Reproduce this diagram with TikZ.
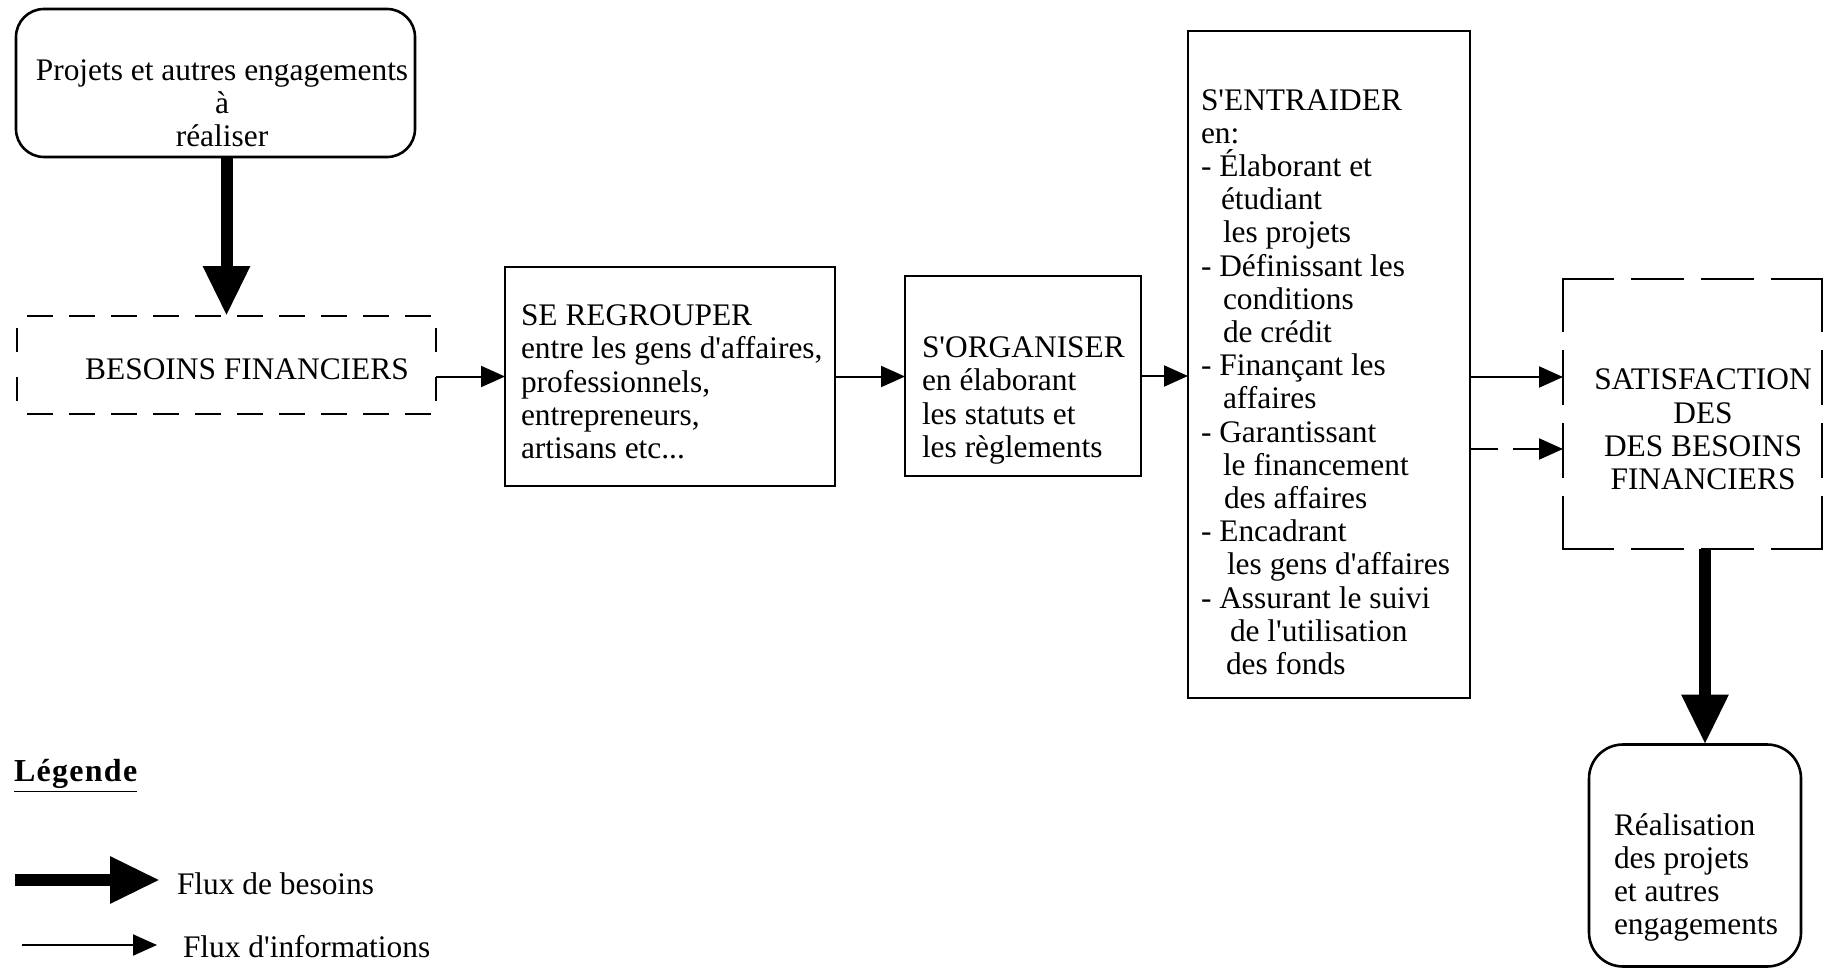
\documentclass[tikz,border=0pt]{standalone}
\usepackage{fontspec}
\setmainfont{Liberation Serif}
\usetikzlibrary{arrows.meta,calc}
\newcommand{\q}{\textquotesingle}

\begin{document}
\begin{tikzpicture}[x=0.5pt,y=-0.5pt,
  every node/.style={font=\fontsize{15.7}{16.6}\selectfont, inner sep=0pt, outer sep=0pt},
  box/.style={draw, line width=1.3pt},
  ghost/.style={draw=none},
  flow/.style={line width=6pt, -{Triangle[length=25pt,width=22pt]}},
  info/.style={line width=1pt, -{Triangle[length=12pt,width=10.5pt]}},
  infodash/.style={info, dash pattern=on 14pt off 7.5pt},
  sparse/.style={line width=1.3pt, dash pattern=on 13pt off 8pt, dash phase=16pt},
  sparseside/.style={line width=1.3pt, dash pattern=on 12pt off 12.5pt, dash phase=18.5pt},
  longdash/.style={line width=1.3pt, line cap=rect, dash pattern=on 25pt off 9.83pt},
  longside/.style={line width=1.3pt, line cap=rect, dash pattern=on 26pt off 10.33pt}]

\useasboundingbox (0,0) rectangle (1829,968);

% projects to carry out
\node[box, rounded corners=14pt, minimum width=199.5pt, minimum height=74pt] (P) at (215.5,83) {};
\node[align=center] (Pt) at (222,103) {Projets et autres engagements\\à\\réaliser};

% financial needs (dashed)
\node[ghost, minimum width=209.5pt, minimum height=49pt] (B) at (226.5,365) {};
\draw[sparse] (B.north west) -- (B.north east);
\draw[sparse] (B.south west) -- (B.south east);
\draw[sparseside] (B.north west) -- (B.south west);
\draw[sparseside] (B.north east) -- (B.south east);
\node (Bt) at (247,369) {BESOINS FINANCIERS};

% grouping
\node[box, minimum width=165pt, minimum height=109.5pt] (S) at (670,376.5) {};
\node[anchor=west, align=left] (St) at (521,382) {SE REGROUPER\\entre les gens d\q affaires,\\professionnels,\\entrepreneurs,\\artisans etc...};

% organising
\node[box, minimum width=118pt, minimum height=100pt] (O) at (1023,376) {};
\node[anchor=west, align=left] (Ot) at (922,400.5) {S\q ORGANISER\\en élaborant\\les statuts et\\les règlements};

% mutual help
\node[box, minimum width=141pt, minimum height=333.5pt] (E) at (1329,364.5) {};
\node[anchor=west, align=left] (Et) at (1201,382) {S\q ENTRAIDER\\en:\\- Élaborant et\\\hspace*{10pt}étudiant\\\hspace*{11pt}les projets\\- Définissant les\\\hspace*{11pt}conditions\\\hspace*{11pt}de crédit\\- Finançant les\\\hspace*{11pt}affaires\\- Garantissant\\\hspace*{11pt}le financement\\\hspace*{11.5pt}des affaires\\- Encadrant\\\hspace*{13pt}les gens d\q affaires\\- Assurant le suivi\\\hspace*{14.5pt}de l\q utilisation\\\hspace*{12.5pt}des fonds};

% satisfaction (dashed)
\node[ghost, minimum width=129.5pt, minimum height=135pt] (T) at (1692.5,414) {};
\draw[longdash] (T.north west) -- (T.north east);
\draw[longdash] (T.south west) -- (T.south east);
\draw[longside] (T.north west) -- (T.south west);
\draw[longside] (T.north east) -- (T.south east);
\node[align=center] (Tt) at (1703,429.5) {SATISFACTION\\DES\\DES BESOINS\\FINANCIERS};

% realisation
\node[box, rounded corners=17pt, minimum width=106pt, minimum height=111pt] (R) at (1695,855.5) {};
\node[anchor=west, align=left] (Rt) at (1614,877.5) {Réalisation\\des projets\\et autres\\engagements};

% connectors
\draw[flow] (P.south -| B.north) -- (B.north);
\draw[info] (B.east |- S.west) -- (S.west);
\draw[info] (S.east) -- (S.east -| O.west);
\draw[info] (O.east) -- (O.east -| E.west);
\coordinate (tin1) at ($(T.west)+(0,-37)$);
\coordinate (tin2) at ($(T.west)+(0,35)$);
\draw[info] (tin1 -| E.east) -- (tin1);
\draw[infodash] (tin2 -| E.east) -- (tin2);
\coordinate (tdown) at ($(T.south)+(12.5,0)$);
\draw[flow] (tdown) -- (tdown |- R.north);

% legend
\node[anchor=west, font=\fontsize{16}{18}\bfseries\addfontfeature{LetterSpace=4}] (L) at (14,776) {\underline{Légende}};
\coordinate (la1) at (15,880);
\coordinate (la2) at (160,880);
\draw[flow] (la1) -- (la2);
\node[anchor=west] (lt1) at (177,884) {Flux de besoins};
\coordinate (lb1) at (22,945);
\coordinate (lb2) at (157,945);
\draw[info] (lb1) -- (lb2);
\node[anchor=base west] (lt2) at (183,957) {Flux d\q informations};
\end{tikzpicture}
\end{document}
